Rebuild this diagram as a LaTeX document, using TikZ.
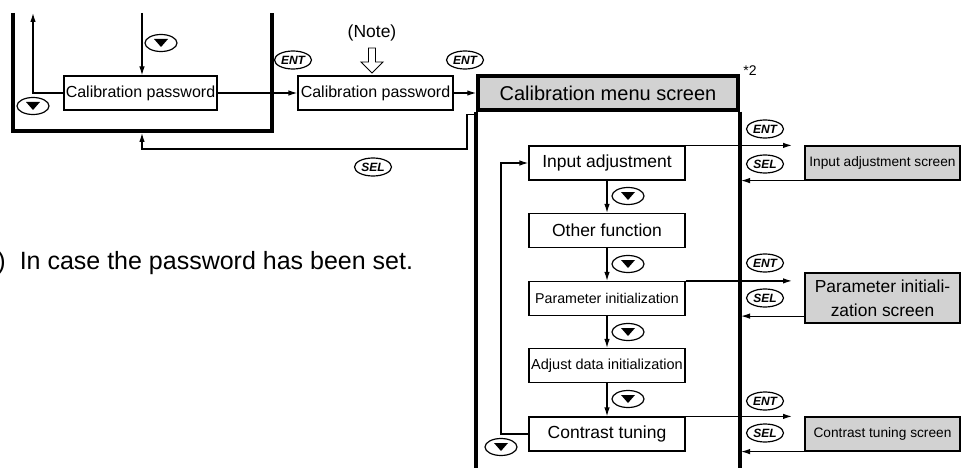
\documentclass[tikz,border=0pt]{standalone}
\usepackage{fontspec}
\setmainfont{Liberation Sans}
\usetikzlibrary{shapes.geometric, arrows.meta, positioning}
\definecolor{screengray}{RGB}{210,210,210}
\tikzset{
  menuitem/.style={draw, minimum width=156pt, minimum height=34pt, inner sep=0pt, font=\fontsize{17.5}{20}\selectfont},
  smallitem/.style={menuitem, font=\fontsize{14.2}{16}\selectfont},
  screenbox/.style={draw, fill=screengray, minimum width=155pt, minimum height=34pt, inner sep=0pt, font=\fontsize{13.7}{16}\selectfont},
  keybtn/.style={draw, ellipse, minimum width=37pt, minimum height=18pt, inner sep=0pt, font=\fontsize{12}{12}\selectfont\bfseries\itshape},
  downbtn/.style={draw, ellipse, minimum width=32pt, minimum height=17pt, inner sep=0pt,
    path picture={\fill ([yshift=-4pt]path picture bounding box.center) -- ++(-7pt,8pt) -- ++(14pt,0pt) -- cycle;}},
  rail/.style={line width=4pt}
}

\begin{document}
\begin{tikzpicture}[x=1pt, y=-1pt, line width=1.2pt, >={Latex[length=9pt,width=5.5pt]}]
  \useasboundingbox (0,0) rectangle (961,468);
  % password part on the left
  \draw[rail] (13,13) -- (13,131) -- (272,131) -- (272,13);
  \node[menuitem, minimum width=153pt, font=\fontsize{16}{18}\selectfont] (pw1) at (140.5,93) {Calibration password};
  \node[menuitem, minimum width=155pt, font=\fontsize{16}{18}\selectfont] (pw2) at (375.5,93) {Calibration password};
  \coordinate (uptip) at (33,13);
  \coordinate (downtop) at (142,13);
  \coordinate (bktbot) at (142,133);
  \coordinate (selturn) at (467,149);
  \draw[->] (pw1.west) -| (uptip);
  \draw[->] (downtop) -- (downtop |- pw1.north);
  \node[downbtn] (dnA) at (161,43) {};
  \node[downbtn] (dnB) at (33,106) {};

  % menu screen with its rails
  \node[draw, line width=3.5pt, fill=screengray, minimum width=260pt, minimum height=34pt, inner sep=0pt, font=\fontsize{20}{24}\selectfont] (menu) at (608,93) {Calibration menu screen};
  \draw[rail] (menu.south west) -- (menu.south west |- 0,470);
  \draw[rail] (menu.south east) -- (menu.south east |- 0,470);
  \node[font=\fontsize{14}{16}\selectfont] (star) at (750,71) {*2};

  \draw[->] (pw1) -- (pw2);
  \draw[->] (pw2) -- (menu);
  \node[keybtn] (ent1) at (293,60) {ENT};
  \node[keybtn] (ent2) at (465,60) {ENT};
  \draw[->] ([yshift=-3pt]menu.south west) -| (selturn) -| (bktbot);
  \node[keybtn] (sel1) at (373,167) {SEL};

  % note marker
  \node[font=\fontsize{17.5}{20}\selectfont] (note) at (372,33) {(Note)};
  \draw[line width=0.9pt, fill=white] (368.5,48) -- (368.5,62) -- (361,62) -- (372,73) -- (383,62) -- (375.5,62) -- (375.5,48) -- cycle;
  \node[anchor=base east, font=\fontsize{25}{30}\selectfont] (casenote) at (417,269) {(Note)\hspace{14pt}In case the password has been set.};

  % menu items
  \node[menuitem] (inadj) at (607,163) {Input adjustment};
  \node[menuitem] (other) at (607,230.5) {Other function};
  \node[smallitem] (paraminit) at (607,298.5) {Parameter initialization};
  \node[smallitem, font=\fontsize{14.5}{16}\selectfont] (adjinit) at (607,365.5) {Adjust data initialization};
  \node[menuitem] (contrast) at (607,434) {Contrast tuning};
  \draw[->] (inadj) -- (other);
  \draw[->] (other) -- (paraminit);
  \draw[->] (paraminit) -- (adjinit);
  \draw[->] (adjinit) -- (contrast);
  \node[downbtn] (dn1) at (628,196) {};
  \node[downbtn] (dn2) at (628,264) {};
  \node[downbtn] (dn3) at (628,332) {};
  \node[downbtn] (dn4) at (628,399) {};

  % loop back to the first item
  \coordinate (looprail) at (501,0);
  \draw[->] (contrast.west) -- (contrast.west -| looprail) |- (inadj.west);
  \node[downbtn] (dnL) at (501,447) {};

  % screens on the right
  \node[screenbox] (inadjscr) at (882.5,163) {Input adjustment screen};
  \node[screenbox, minimum height=50pt, font=\fontsize{17.4}{24}\selectfont, align=center] (paramscr) at (882.5,298) {Parameter initiali-\\zation screen};
  \node[screenbox] (contrastscr) at (882.5,434) {Contrast tuning screen};
  \coordinate (enttip) at (792,0);
  \coordinate (railR) at (741,0);
  \draw[->] (inadj.north east) -- (inadj.north east -| enttip);
  \draw[->] (paraminit.north east) -- (paraminit.north east -| enttip);
  \draw[->] (contrast.north east) -- (contrast.north east -| enttip);
  \draw[->] (inadjscr.west |- inadj.south) -- (railR |- inadj.south);
  \draw[->] (paramscr.west |- paraminit.south) -- (railR |- paraminit.south);
  \draw[->] (contrastscr.west |- contrast.south) -- (railR |- contrast.south);
  \node[keybtn] (ent3) at (765,129) {ENT};
  \node[keybtn] (sel3) at (765,164) {SEL};
  \node[keybtn] (ent4) at (765,263) {ENT};
  \node[keybtn] (sel4) at (765,298) {SEL};
  \node[keybtn] (ent5) at (765,401) {ENT};
  \node[keybtn] (sel5) at (765,433) {SEL};
\end{tikzpicture}
\end{document}
